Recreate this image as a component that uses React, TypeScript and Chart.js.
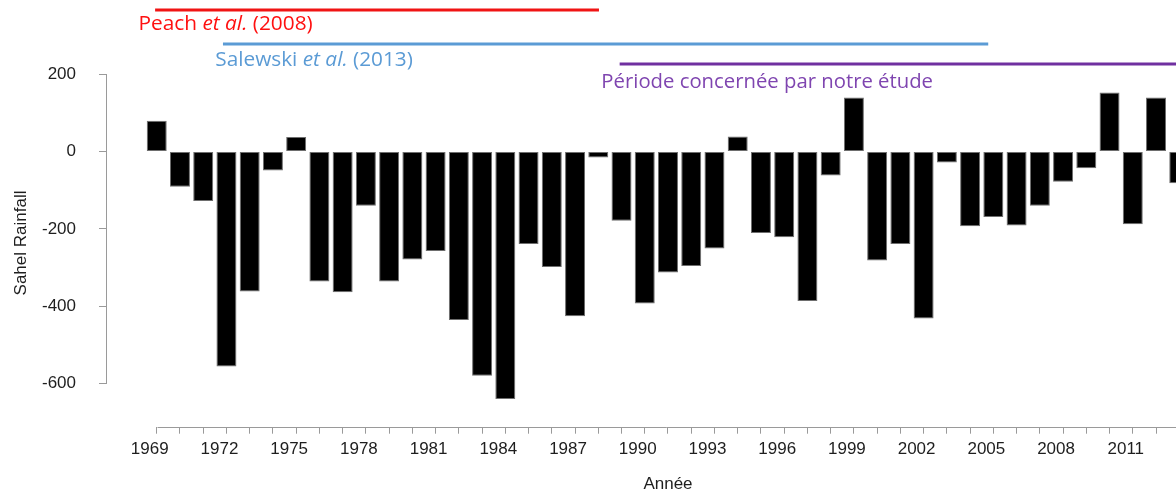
import React, { useEffect, useRef } from "react";
import { Chart, registerables } from "chart.js";

Chart.register(...registerables);

// ---------- data ----------
const YEARS = [
  1969, 1970, 1971, 1972, 1973, 1974, 1975, 1976, 1977, 1978,
  1979, 1980, 1981, 1982, 1983, 1984, 1985, 1986, 1987, 1988,
  1989, 1990, 1991, 1992, 1993, 1994, 1995, 1996, 1997, 1998,
  1999, 2000, 2001, 2002, 2003, 2004, 2005, 2006, 2007, 2008,
  2009, 2010, 2011, 2012, 2013,
];
const RAINFALL = [
  80, -91, -128, -556, -362, -49, 38, -336, -364, -140,
  -336, -279, -257, -436, -580, -640, -239, -299, -426, -15,
  -179, -393, -313, -296, -251, 39, -211, -222, -387, -62,
  140, -282, -239, -432, -28, -193, -169, -191, -140, -78,
  -43, 153, -188, 140, -82,
];
const X_TICK_LABELS = [
  "1969", "1972", "1975", "1978", "1981", "1984", "1987", "1990",
  "1993", "1996", "1999", "2002", "2005", "2008", "2011",
];
const Y_TICKS = [200, 0, -200, -400, -600];

const STUDY_TEXTS: [string, boolean][][] = [
  [["Peach ", false], ["et al.", true], [" (2008)", false]],
  [["Salewski ", false], ["et al.", true], [" (2013)", false]],
  [["Période concernée par notre étude", false]],
];
const STUDY_START = [1968.93, 1971.85, 1988.92];
const STUDY_END = [1988.03, 2004.78, 2016];

// ---------- styles / layout ----------
const X_MIN = 1966.86;
const X_MAX = 2012.86;
const Y_MIN = -712;
const Y_MAX = 200;
const STUDY_LINE_COLORS = ["#f01414", "#5b9bd5", "#7030a0"];
const STUDY_TEXT_COLORS = ["#ff1010", "#5b9bd5", "#7f45b0"];
const STUDY_LINE_Y = [10, 44, 64];
const STUDY_TEXT_BASELINE = [30, 65.7, 88.3];
const STUDY_TEXT_DX = [-16.7, -7.7, -18.3];
const STUDY_TEXT_WIDTH = [174.4, 197.7, 332];
const AXIS_COLOR = "#9a9a9a";
const TEXT_COLOR = "#1e1e1e";
const FONT_FAMILY = '"Liberation Sans", Arial, sans-serif';
const FONT_SIZE = 17;

function drawRich(
  ctx: CanvasRenderingContext2D,
  segs: [string, boolean][],
  x: number,
  baseline: number,
  targetW: number,
  color: string
) {
  const base = 20;
  const font = (it: boolean, s: number) =>
    `${it ? "italic " : ""}${s}px "Open Sans", "Noto Sans", sans-serif`;
  let w = 0;
  segs.forEach(([t, it]) => {
    ctx.font = font(it, base);
    w += ctx.measureText(t).width;
  });
  const s = (base * targetW) / w;
  let cx = x;
  ctx.fillStyle = color;
  ctx.textAlign = "left";
  ctx.textBaseline = "alphabetic";
  segs.forEach(([t, it]) => {
    ctx.font = font(it, s);
    ctx.fillText(t, cx, baseline);
    cx += ctx.measureText(t).width;
  });
}

const overlayPlugin = {
  id: "rAxesOverlay",
  afterDraw(chart: any) {
    const ctx: CanvasRenderingContext2D = chart.ctx;
    const xs = chart.scales.x;
    const ys = chart.scales.y;
    const area = chart.chartArea;
    ctx.save();
    // R-style axis lines
    ctx.strokeStyle = AXIS_COLOR;
    ctx.lineWidth = 1;
    const yx = Math.round(area.left) - 0.5;
    ctx.beginPath();
    ctx.moveTo(yx, Math.round(ys.getPixelForValue(Y_TICKS[0])) + 0.5);
    ctx.lineTo(yx, Math.round(ys.getPixelForValue(Y_TICKS[Y_TICKS.length - 1])) + 0.5);
    ctx.stroke();
    const xy = Math.round(area.bottom) + 0.5;
    ctx.beginPath();
    ctx.moveTo(Math.round(xs.getPixelForValue(YEARS[0])) + 0.5, xy);
    ctx.lineTo(chart.width, xy);
    ctx.stroke();

    // axis titles
    ctx.fillStyle = TEXT_COLOR;
    ctx.font = `${FONT_SIZE}px ${FONT_FAMILY}`;
    ctx.textAlign = "center";
    ctx.textBaseline = "alphabetic";
    ctx.fillText("Année", 668, 489);
    ctx.save();
    ctx.translate(26, 243);
    ctx.rotate(-Math.PI / 2);
    ctx.fillText("Sahel Rainfall", 0, 0);
    ctx.restore();

    // study period annotations
    STUDY_TEXTS.forEach((segs, i) => {
      const x1 = xs.getPixelForValue(STUDY_START[i]);
      const x2 = Math.min(xs.getPixelForValue(STUDY_END[i]), chart.width);
      ctx.strokeStyle = STUDY_LINE_COLORS[i];
      ctx.lineWidth = 3;
      ctx.beginPath();
      ctx.moveTo(x1, STUDY_LINE_Y[i]);
      ctx.lineTo(x2, STUDY_LINE_Y[i]);
      ctx.stroke();
      drawRich(ctx, segs, x1 + STUDY_TEXT_DX[i], STUDY_TEXT_BASELINE[i], STUDY_TEXT_WIDTH[i], STUDY_TEXT_COLORS[i]);
    });
    ctx.restore();
  },
};

export default function App() {
  const ref = useRef<HTMLCanvasElement | null>(null);

  useEffect(() => {
    if (!ref.current) return;
    const chart = new Chart(ref.current, {
      type: "bar",
      data: {
        datasets: [
          {
            label: "Sahel Rainfall",
            data: YEARS.map((yr, i) => ({ x: yr, y: RAINFALL[i] })),
            backgroundColor: "#000000",
            borderColor: "#6e6e6e",
            borderWidth: 1,
            borderSkipped: false,
            categoryPercentage: 1,
            barPercentage: 0.86,
          },
        ],
      },
      options: {
        responsive: false,
        animation: false,
        events: [],
        layout: { padding: { top: 74.3, left: 0, right: 0, bottom: 0 } },
        plugins: {
          legend: { display: false },
          tooltip: { enabled: false },
        },
        scales: {
          x: {
            type: "linear",
            min: X_MIN,
            max: X_MAX,
            offset: false,
            afterBuildTicks: (s: any) => {
              s.ticks = YEARS.filter((v) => v >= s.min && v <= s.max).map((v) => ({ value: v }));
            },
            afterFit: (s: any) => {
              s.height = 63.3;
            },
            grid: {
              offset: false,
              drawOnChartArea: false,
              drawTicks: true,
              tickLength: 7,
              color: AXIS_COLOR,
              lineWidth: 1,
            },
            border: { display: false },
            ticks: {
              autoSkip: false,
              maxRotation: 0,
              minRotation: 0,
              padding: 5,
              labelOffset: -7,
              color: TEXT_COLOR,
              font: { family: FONT_FAMILY, size: FONT_SIZE },
              callback: (v: any) => (X_TICK_LABELS.includes(String(v)) ? String(v) : ""),
            },
          },
          y: {
            min: Y_MIN,
            max: Y_MAX,
            afterBuildTicks: (s: any) => {
              s.ticks = Y_TICKS.map((v) => ({ value: v }));
            },
            afterFit: (s: any) => {
              s.width = 107;
            },
            grid: {
              offset: false,
              drawOnChartArea: false,
              drawTicks: true,
              tickLength: 8,
              color: AXIS_COLOR,
              lineWidth: 1,
            },
            border: { display: false },
            ticks: {
              padding: 23,
              color: TEXT_COLOR,
              font: { family: FONT_FAMILY, size: FONT_SIZE },
              callback: (v: any) => String(v),
            },
          },
        },
      },
      plugins: [overlayPlugin],
    });
    return () => chart.destroy();
  }, []);

  return (
    <div
      style={{
        position: "fixed",
        left: 0,
        top: 0,
        width: 1176,
        height: 490,
        background: "#ffffff",
        overflow: "hidden",
      }}
    >
      <canvas ref={ref} width={1176} height={490} style={{ display: "block", width: 1176, height: 490 }} />
    </div>
  );
}
